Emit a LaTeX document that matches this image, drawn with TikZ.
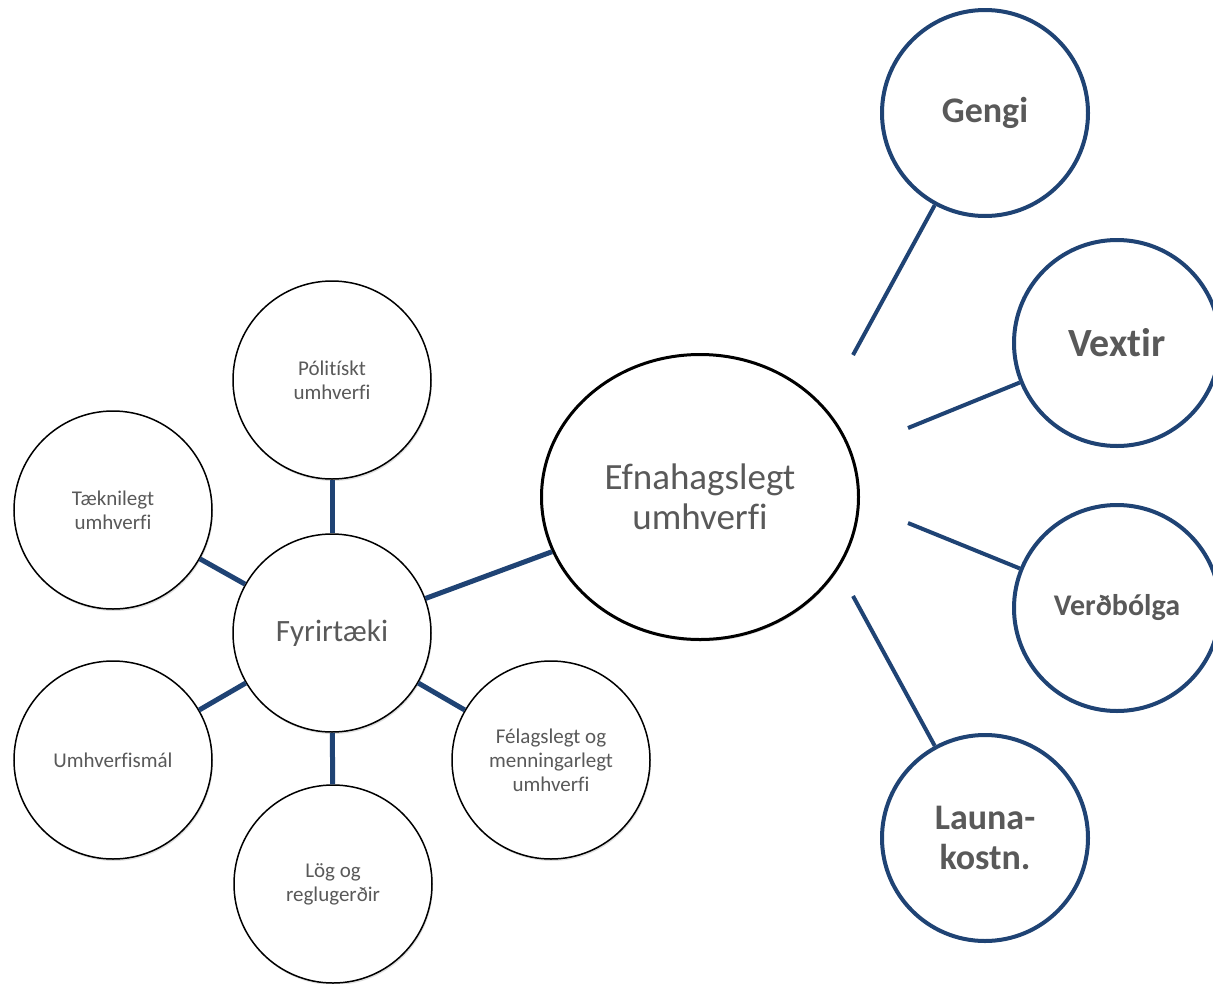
\documentclass[tikz,border=0pt]{standalone}
\usepackage{fontspec}
\setmainfont[Ligatures=NoCommon]{Carlito}
\usetikzlibrary{shapes.geometric,shadows}
\definecolor{navy}{HTML}{1F4374}
\definecolor{txt}{HTML}{595959}

\begin{document}
\begin{tikzpicture}[x=1pt,y=-1pt,
  small/.style={circle, draw=black, line width=1.5pt, fill=white, inner sep=0pt, minimum size=198pt, align=center, text=txt,
    font=\fontsize{21}{24}\selectfont, drop shadow={opacity=.25, shadow xshift=1pt, shadow yshift=-2pt}},
  big/.style={ellipse, draw=black, line width=3pt, fill=white, inner sep=0pt, minimum width=317pt, minimum height=285pt, align=center, text=txt,
    font=\fontsize{37}{40}\selectfont, drop shadow={opacity=.25, shadow xshift=1pt, shadow yshift=-2pt}},
  blue/.style={circle, draw=navy, line width=4pt, fill=white, inner sep=0pt, minimum size=206pt, align=center, text=txt, font=\bfseries},
  link/.style={draw=navy, line width=5pt},
  spoke/.style={draw=navy, line width=4pt}]
\useasboundingbox (0,0) rectangle (1213,983);

% left cluster
\node[small] (pol) at (332,380) {Pólitískt\\umhverfi};
\node[small] (taek) at (113,510) {Tæknilegt\\umhverfi};
\node[small, font=\fontsize{31}{36}\selectfont] (fyr) at (332,633) {Fyrirtæki};
\node[small] (umh) at (113,760) {Umhverfismál};
\node[small] (log) at (333,884) {Lög og\\reglugerðir};
\node[small] (fel) at (551,760) {Félagslegt og\\menningarlegt\\umhverfi};
\node[big] (efn) at (700,497) {Efnahagslegt\\umhverfi};

\draw[link] (fyr) -- (pol);
\draw[link] (fyr) -- (taek);
\draw[link] (fyr) -- (umh);
\draw[link] (fyr) -- (log);
\draw[link] (fyr) -- (fel);
\draw[link] (fyr) -- (efn);

% right side
\node[blue, font=\bfseries\fontsize{36}{40}\selectfont] (gengi) at (985,113) {Gengi};
\node[blue, font=\bfseries\fontsize{40}{44}\selectfont] (vextir) at (1117,343) {Vextir};
\node[blue, font=\bfseries\fontsize{30}{36}\selectfont] (verd) at (1117,608) {Verðbólga};
\node[blue, font=\bfseries\fontsize{36}{40}\selectfont] (launa) at (985,838) {Launa-\\kostn.};

\coordinate (g1) at (853,355);
\coordinate (v1) at (908,428);
\coordinate (b1) at (908,523);
\coordinate (l1) at (853,596);

\draw[spoke] (gengi) -- (g1);
\draw[spoke] (vextir) -- (v1);
\draw[spoke] (verd) -- (b1);
\draw[spoke] (launa) -- (l1);
\end{tikzpicture}
\end{document}
